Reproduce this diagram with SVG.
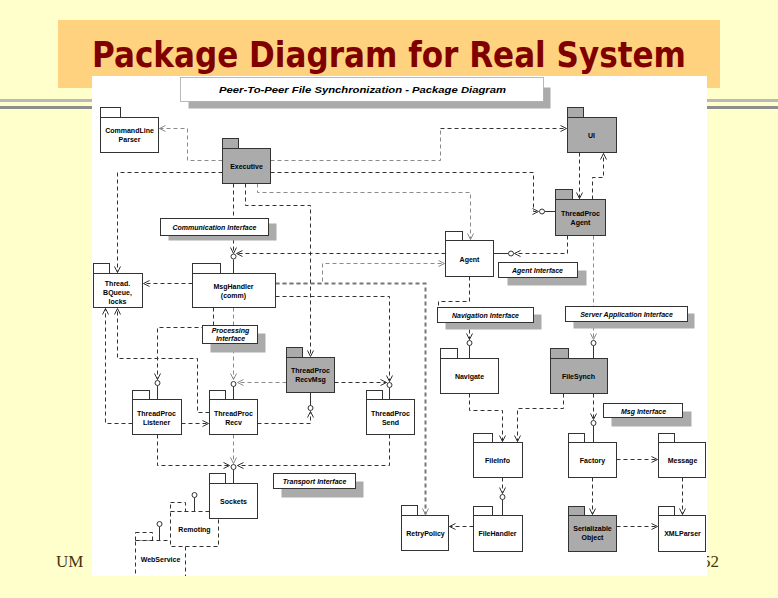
<svg xmlns="http://www.w3.org/2000/svg" width="778" height="598" viewBox="0 0 778 598">
<style>
.t{font-family:"Liberation Sans",Arial,sans-serif;font-size:7px;font-weight:bold;fill:#000;text-anchor:middle}
.it{font-style:italic;font-weight:bold}
.pk{fill:#fff;stroke:#333;stroke-width:1}
.gr{fill:#ABABAB;stroke:#333;stroke-width:1}
.dpk{fill:#fff;stroke:#333;stroke-width:1;stroke-dasharray:4 3}
.sh{fill:#ABABAB}
.lb{fill:#fff;stroke:#333;stroke-width:1}
.c{fill:none;stroke:#333;stroke-width:1;stroke-dasharray:4 3;marker-end:url(#ar)}
.cl{fill:none;stroke:#8a8a8a;stroke-width:1;stroke-dasharray:4 3;marker-end:url(#arl)}
.cn{fill:none;stroke:#333;stroke-width:1;stroke-dasharray:4 3}
.cln{fill:none;stroke:#8a8a8a;stroke-width:1;stroke-dasharray:4 3}
.st{stroke:#333;stroke-width:1;fill:none}
.lo{fill:#fff;stroke:#333;stroke-width:1}
.ft{font-family:"Liberation Serif",serif;font-size:17px;fill:#4a3210}
</style>
<defs>
<marker id="ar" markerUnits="userSpaceOnUse" markerWidth="8" markerHeight="8" viewBox="0 0 8 8" refX="7" refY="4" orient="auto"><path d="M1,1 L7,4 L1,7" fill="none" stroke="#333" stroke-width="1"/></marker>
<marker id="arl" markerUnits="userSpaceOnUse" markerWidth="8" markerHeight="8" viewBox="0 0 8 8" refX="7" refY="4" orient="auto"><path d="M1,1 L7,4 L1,7" fill="none" stroke="#8a8a8a" stroke-width="1"/></marker>
</defs>
<!-- slide -->
<rect x="0" y="0" width="778" height="598" fill="#FFFFCC"/>
<rect x="58" y="20" width="662" height="68" fill="#FFD27F"/>
<rect x="0" y="99" width="778" height="3" fill="#B9B9B9"/>
<rect x="0" y="106" width="778" height="3" fill="#8E8E8E"/>
<text x="92" y="67" textLength="594" lengthAdjust="spacingAndGlyphs" font-family="DejaVu Sans, Verdana, sans-serif" font-weight="bold" font-size="35" fill="#800000">Package Diagram for Real System</text>
<text x="56" y="567" class="ft">UM</text>
<text x="702" y="567" class="ft">52</text>
<rect x="92" y="76" width="615" height="500" fill="#fff"/>

<g transform="translate(0.5,0.5)">
<g id="diagram-title">
<rect x="188" y="87" width="362" height="21" class="sh"/>
<rect x="180" y="77" width="363" height="24" fill="#fff" stroke="#aaa" stroke-width="0.8"/>
<text x="362" y="92" class="t it" style="font-size:9.5px" textLength="287" lengthAdjust="spacingAndGlyphs">Peer-To-Peer File Synchronization - Package Diagram</text>
</g>

<g id="connectors">
<path class="cl" d="M222,160 H187 V128 H159"/>
<path class="cln" d="M270,160 H440 V128"/>
<path class="c" d="M440,128 H566"/>
<path class="c" d="M222,172 H117 V272"/>
<path class="c" d="M270,172 H533 V211 H538"/>
<path class="cl" d="M257,183 V192 H470 V239"/>
<path class="c" d="M245,183 V205 H310 V356"/>
<path class="c" d="M233,183 V253"/>
<path class="c" d="M445,253 H236"/>
<path class="c" d="M192,283 H143"/>
<path class="cl" d="M275,283 H322 V263 H444"/>
<path d="M275,283 H425 V514" fill="none" stroke="#777" stroke-width="2" stroke-dasharray="4 3" marker-end="url(#arl)"/>
<path class="c" d="M275,296 H389 V381"/>
<path class="c" d="M334,382 H386"/>
<path class="c" d="M213,307 V327 H157 V379"/>
<path class="cl" d="M233,307 V379"/>
<path class="cl" d="M286,382 H237"/>
<path class="c" d="M132,423 H105 V308"/>
<path class="c" d="M209,412 H197 V358 H117 V308"/>
<path class="c" d="M181,423 H208"/>
<path class="c" d="M257,423 H310 V411"/>
<path class="c" d="M157,434 V465 H229"/>
<path class="cl" d="M233,434 V463"/>
<path class="c" d="M389,434 V465 H237"/>
<path class="cn" d="M469,276 V301 H438 V307"/>
<path class="c" d="M469,322 V339"/>
<path class="c" d="M567,235 V253 H514"/>
<path class="cl" d="M593,235 V339"/>
<path class="c" d="M579,152 V198"/>
<path class="c" d="M592,199 V177 H603 V153"/>
<path class="c" d="M469,393 V410 H502 V441"/>
<path class="c" d="M563,393 V408 H517 V441"/>
<path class="c" d="M593,393 V419"/>
<path class="c" d="M616,459 H657"/>
<path class="c" d="M502,477 V493"/>
<path class="c" d="M473,526 H449"/>
<path class="c" d="M592,477 V514"/>
<path class="c" d="M682,477 V514"/>
<path class="c" d="M616,526 H657"/>
<!-- lollipops -->
<path class="st" d="M233,259 V273 M157,385 V399 M233,386 V399 M389,387 V399 M310,392 V405 M469,345 V358 M593,345 V358 M593,425 V442 M502,499 V515 M493,253 H508 M555,211 H544 M233,469 V483 M194,497 V511 M159,526 V540"/>
<circle class="lo" cx="233" cy="256" r="2.5"/>
<circle class="lo" cx="157" cy="382.5" r="2.5"/>
<circle class="lo" cx="233" cy="383.5" r="2.5"/>
<circle class="lo" cx="389" cy="384.5" r="2.5"/>
<circle class="lo" cx="310" cy="407.5" r="2.5"/>
<circle class="lo" cx="469" cy="342.5" r="2.5"/>
<circle class="lo" cx="593" cy="342.5" r="2.5"/>
<circle class="lo" cx="593" cy="422.5" r="2.5"/>
<circle class="lo" cx="502" cy="496.5" r="2.5"/>
<circle class="lo" cx="510.5" cy="253" r="2.5"/>
<circle class="lo" cx="541.5" cy="211" r="2.5"/>
<circle class="lo" cx="233" cy="466.5" r="2.5"/>
<circle class="lo" cx="194" cy="494.5" r="2.5"/>
<circle class="lo" cx="159" cy="523.5" r="2.5"/>
</g>

<g id="commandline-parser"><rect class="pk" x="100" y="107" width="20" height="10"/><rect class="pk" x="100" y="117" width="58" height="35"/><text class="t" x="129" y="132">CommandLine</text><text class="t" x="129" y="141">Parser</text></g>
<g id="ui"><rect class="gr" x="567" y="107" width="16" height="10"/><rect class="gr" x="567" y="117" width="49" height="35"/><text class="t" x="591" y="137">UI</text></g>
<g id="executive"><rect class="gr" x="222" y="138" width="16" height="10"/><rect class="gr" x="222" y="148" width="48" height="35"/><text class="t" x="246" y="168">Executive</text></g>
<g id="threadproc-agent"><rect class="gr" x="555" y="189" width="17" height="10"/><rect class="gr" x="555" y="199" width="50" height="36"/><text class="t" x="580" y="215">ThreadProc</text><text class="t" x="580" y="224">Agent</text></g>
<g id="agent"><rect class="pk" x="445" y="231" width="17" height="9"/><rect class="pk" x="445" y="240" width="48" height="36"/><text class="t" x="469" y="261">Agent</text></g>
<g id="thread-bqueue-locks"><rect class="pk" x="93" y="263" width="16" height="10"/><rect class="pk" x="93" y="273" width="49" height="34"/><text class="t" x="117" y="285">Thread.</text><text class="t" x="117" y="294">BQueue,</text><text class="t" x="117" y="303">locks</text></g>
<g id="msghandler"><rect class="pk" x="192" y="263" width="28" height="10"/><rect class="pk" x="192" y="273" width="83" height="34"/><text class="t" x="233" y="288">MsgHandler</text><text class="t" x="233" y="297">(comm)</text></g>
<g id="threadproc-recvmsg"><rect class="gr" x="286" y="347" width="16" height="10"/><rect class="gr" x="286" y="357" width="48" height="35"/><text class="t" x="310" y="372">ThreadProc</text><text class="t" x="310" y="381">RecvMsg</text></g>
<g id="navigate"><rect class="pk" x="440" y="348" width="17" height="10"/><rect class="pk" x="440" y="358" width="58" height="35"/><text class="t" x="469" y="378">Navigate</text></g>
<g id="filesynch"><rect class="gr" x="550" y="348" width="18" height="10"/><rect class="gr" x="550" y="358" width="57" height="35"/><text class="t" x="578" y="378">FileSynch</text></g>
<g id="threadproc-listener"><rect class="pk" x="132" y="390" width="17" height="9"/><rect class="pk" x="132" y="399" width="49" height="35"/><text class="t" x="156" y="415">ThreadProc</text><text class="t" x="156" y="424">Listener</text></g>
<g id="threadproc-recv"><rect class="pk" x="209" y="390" width="16" height="9"/><rect class="pk" x="209" y="399" width="48" height="35"/><text class="t" x="233" y="415">ThreadProc</text><text class="t" x="233" y="424">Recv</text></g>
<g id="threadproc-send"><rect class="pk" x="366" y="390" width="16" height="9"/><rect class="pk" x="366" y="399" width="48" height="35"/><text class="t" x="390" y="415">ThreadProc</text><text class="t" x="390" y="424">Send</text></g>
<g id="fileinfo"><rect class="pk" x="473" y="433" width="19" height="9"/><rect class="pk" x="473" y="442" width="49" height="35"/><text class="t" x="497" y="462">FileInfo</text></g>
<g id="factory"><rect class="pk" x="568" y="433" width="16" height="9"/><rect class="pk" x="568" y="442" width="48" height="35"/><text class="t" x="592" y="462">Factory</text></g>
<g id="message"><rect class="pk" x="658" y="433" width="16" height="9"/><rect class="pk" x="658" y="442" width="47" height="35"/><text class="t" x="682" y="462">Message</text></g>
<g id="webservice"><rect class="dpk" x="135" y="532" width="17" height="8"/><rect class="dpk" x="135" y="540" width="50" height="40"/><text class="t" x="160" y="561">WebService</text></g>
<g id="remoting"><rect class="dpk" x="170" y="502" width="15" height="9"/><rect class="dpk" x="170" y="511" width="48" height="35"/><text class="t" x="194" y="531">Remoting</text></g>
<g id="sockets"><rect class="pk" x="209" y="473" width="16" height="10"/><rect class="pk" x="209" y="483" width="48" height="35"/><text class="t" x="233" y="503">Sockets</text></g>
<g id="retrypolicy"><rect class="pk" x="401" y="505" width="16" height="10"/><rect class="pk" x="401" y="515" width="47" height="35"/><text class="t" x="425" y="535">RetryPolicy</text></g>
<g id="filehandler"><rect class="pk" x="473" y="506" width="19" height="9"/><rect class="pk" x="473" y="515" width="49" height="36"/><text class="t" x="497" y="535">FileHandler</text></g>
<g id="serializable-object"><rect class="gr" x="568" y="506" width="16" height="9"/><rect class="gr" x="568" y="515" width="48" height="36"/><text class="t" x="592" y="530">Serializable</text><text class="t" x="592" y="539">Object</text></g>
<g id="xmlparser"><rect class="pk" x="658" y="506" width="16" height="9"/><rect class="pk" x="658" y="515" width="47" height="36"/><text class="t" x="682" y="535">XMLParser</text></g>

<g id="communication-interface"><rect class="sh" x="168" y="223" width="108" height="17"/><rect class="lb" x="160" y="218" width="108" height="17"/><text class="t it" x="214" y="229">Communication Interface</text></g>
<g id="agent-interface"><rect class="sh" x="507" y="270" width="79" height="15"/><rect class="lb" x="498" y="262" width="79" height="15"/><text class="t it" x="537" y="272">Agent Interface</text></g>
<g id="navigation-interface"><rect class="sh" x="445" y="314" width="96" height="15"/><rect class="lb" x="437" y="307" width="96" height="15"/><text class="t it" x="485" y="317">Navigation Interface</text></g>
<g id="server-application-interface"><rect class="sh" x="573" y="313" width="121" height="15"/><rect class="lb" x="565" y="306" width="122" height="15"/><text class="t it" x="626" y="316">Server Application Interface</text></g>
<g id="processing-interface"><rect class="sh" x="210" y="333" width="55" height="19"/><rect class="lb" x="202" y="325" width="55" height="18"/><text class="t it" x="230" y="332">Processing</text><text class="t it" x="230" y="340">Interface</text></g>
<g id="msg-interface"><rect class="sh" x="611" y="411" width="80" height="15"/><rect class="lb" x="603" y="403" width="79" height="14"/><text class="t it" x="643" y="413">Msg Interface</text></g>
<g id="transport-interface"><rect class="sh" x="281" y="481" width="82" height="16"/><rect class="lb" x="273" y="473" width="82" height="15"/><text class="t it" x="314" y="483.5">Transport Interface</text></g>
</g>
<rect x="0" y="576" width="778" height="22" fill="#FFFFCC"/>
</svg>
